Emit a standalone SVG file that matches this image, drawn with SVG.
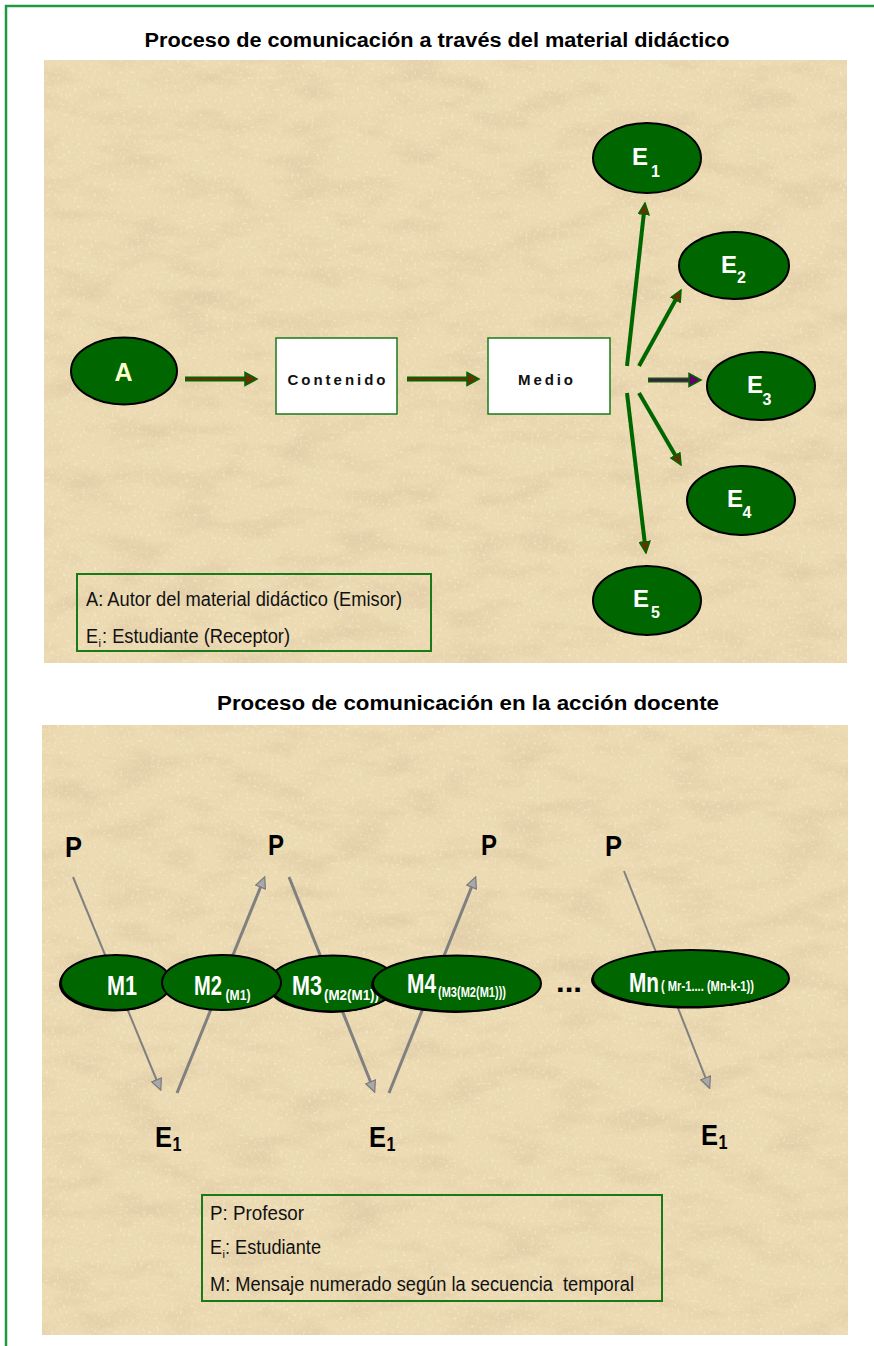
<svg xmlns="http://www.w3.org/2000/svg" width="874" height="1346" viewBox="0 0 874 1346">
<style>
.title{font-family:"Liberation Sans Narrow","Liberation Sans",Arial,sans-serif;font-weight:bold;font-size:20px;fill:#000}
.ell{fill:#006600;stroke:#000;stroke-width:2}
.box{fill:#fff;stroke:#1a7a1a;stroke-width:1.5}
.boxt{font-family:"Liberation Sans",Arial,sans-serif;font-weight:bold;font-size:15px;fill:#111}
.el{font-family:"Liberation Sans",Arial,sans-serif;font-weight:bold;font-size:24px;fill:#fff}
.els{font-family:"Liberation Sans",Arial,sans-serif;font-weight:bold;font-size:16px;fill:#fff}
.leg{fill:none;stroke:#1a7a1a;stroke-width:2}
.legt{font-family:"Liberation Sans Narrow","Liberation Sans",Arial,sans-serif;font-size:20px;fill:#111}
.legs{font-family:"Liberation Sans",Arial,sans-serif;font-size:11px;fill:#111}
.g1{stroke:#006600;stroke-width:4;fill:none}
.gl{stroke:#808080;fill:none}
.mt{font-family:"Liberation Sans Narrow","Liberation Sans",Arial,sans-serif;font-weight:bold;font-size:27px;fill:#fff}
.ms{font-family:"Liberation Sans Narrow","Liberation Sans",Arial,sans-serif;font-weight:bold;font-size:14px;fill:#fff}
.pt{font-family:"Liberation Sans Narrow","Liberation Sans",Arial,sans-serif;font-weight:bold;font-size:29px;fill:#000}
.ps{font-family:"Liberation Sans Narrow","Liberation Sans",Arial,sans-serif;font-weight:bold;font-size:20px;fill:#000}
</style>
<defs>
<filter id="paper" x="0" y="0" width="100%" height="100%">
<feTurbulence type="fractalNoise" baseFrequency="0.018 0.045" numOctaves="4" seed="7" result="t"/>
<feColorMatrix in="t" type="matrix" values="0 0 0 0 0.74  0 0 0 0 0.6  0 0 0 0 0.38  1.8 0 0 0 -0.8" result="c"/>
<feComposite in="c" in2="SourceGraphic" operator="in"/>
</filter>
<filter id="speck" x="0" y="0" width="100%" height="100%">
<feTurbulence type="fractalNoise" baseFrequency="0.35" numOctaves="2" seed="3" result="t"/>
<feColorMatrix in="t" type="matrix" values="0 0 0 0 1  0 0 0 0 0.97  0 0 0 0 0.88  2.2 0 0 0 -1.25" result="c"/>
<feComposite in="c" in2="SourceGraphic" operator="in"/>
</filter>
<marker id="ah" viewBox="0 0 13 12" refX="2" refY="6" markerWidth="13" markerHeight="12" markerUnits="userSpaceOnUse" orient="auto">
<path d="M0.8,0.8 L12,6 L0.8,11.2 Z" fill="#663300" stroke="#006600" stroke-width="1.5"/>
</marker>
<marker id="gh" viewBox="0 0 13 12" refX="2" refY="6" markerWidth="13" markerHeight="12" markerUnits="userSpaceOnUse" orient="auto">
<path d="M0.8,0.8 L12,6 L0.8,11.2 Z" fill="#a8a8a8" stroke="#7a7a7a" stroke-width="1.2"/>
</marker>
</defs>

<rect width="874" height="1346" fill="#fff"/>
<path d="M6,1346 V6 H874" fill="none" stroke="#1f9a40" stroke-width="2.5"/>

<g id="panel-top">
<rect x="44" y="60" width="803" height="603" fill="#ecdab2"/>
<rect x="44" y="60" width="803" height="603" fill="#000" filter="url(#paper)"/>
<rect x="44" y="60" width="803" height="603" fill="#000" filter="url(#speck)" opacity="0.6"/>
</g>
<g id="panel-bottom">
<rect x="42" y="725" width="806" height="610" fill="#ecdab2"/>
<rect x="42" y="725" width="806" height="610" fill="#000" filter="url(#paper)"/>
<rect x="42" y="725" width="806" height="610" fill="#000" filter="url(#speck)" opacity="0.6"/>
</g>

<text id="title-1" class="title" x="437" y="47" text-anchor="middle" textLength="585" lengthAdjust="spacingAndGlyphs">Proceso de comunicación a través del material didáctico</text>
<text id="title-2" class="title" x="468" y="710" text-anchor="middle" textLength="502" lengthAdjust="spacingAndGlyphs">Proceso de comunicación en la acción docente</text>

<g id="connectors-top">
<line x1="185" y1="379" x2="246" y2="379" stroke="#006600" stroke-width="5"/>
<line x1="186" y1="379" x2="247" y2="379" stroke="#663300" stroke-width="1.8"/>
<path d="M245,372.5 L257,379 L245,385.5 Z" fill="#663300" stroke="#006600" stroke-width="1.5"/>
<line x1="407" y1="379" x2="468" y2="379" stroke="#006600" stroke-width="5"/>
<line x1="408" y1="379" x2="469" y2="379" stroke="#663300" stroke-width="1.8"/>
<path d="M467,372.5 L479,379 L467,385.5 Z" fill="#663300" stroke="#006600" stroke-width="1.5"/>
<line class="g1" x1="627" y1="366" x2="643.9" y2="213" marker-end="url(#ah)"/>
<line class="g1" x1="639" y1="366" x2="676.2" y2="298.8" marker-end="url(#ah)"/>
<line x1="648" y1="380" x2="690" y2="380" stroke="#006600" stroke-width="5"/>
<line x1="649" y1="380" x2="691" y2="380" stroke="#660066" stroke-width="2"/>
<path d="M689,373.5 L701,380 L689,386.5 Z" fill="#660066" stroke="#006600" stroke-width="1.5"/>
<line class="g1" x1="639" y1="393" x2="676" y2="456.4" marker-end="url(#ah)"/>
<line class="g1" x1="627" y1="393" x2="644.8" y2="543" marker-end="url(#ah)"/>
</g>

<g id="node-A">
<ellipse class="ell" cx="124" cy="371" rx="53" ry="33.5"/>
<text x="123.5" y="381" text-anchor="middle" font-family="Liberation Sans, Arial, sans-serif" font-weight="bold" font-size="25" fill="#ffffcc">A</text>
</g>
<g id="node-contenido">
<rect class="box" x="276" y="338" width="121" height="76"/>
<text class="boxt" x="336.5" y="385" text-anchor="middle" textLength="98">Contenido</text>
</g>
<g id="node-medio">
<rect class="box" x="488" y="338" width="122" height="76"/>
<text class="boxt" x="545.5" y="385" text-anchor="middle" textLength="55">Medio</text>
</g>
<g id="node-E1">
<ellipse class="ell" cx="647" cy="158" rx="54" ry="35"/>
<text class="el" x="632" y="165">E</text><text class="els" x="651" y="177">1</text>
</g>
<g id="node-E2">
<ellipse class="ell" cx="734" cy="265.5" rx="55" ry="33.5"/>
<text class="el" x="721" y="273">E</text><text class="els" x="737" y="283">2</text>
</g>
<g id="node-E3">
<ellipse class="ell" cx="761" cy="386" rx="54" ry="34"/>
<text class="el" x="747" y="393">E</text><text class="els" x="762.5" y="405">3</text>
</g>
<g id="node-E4">
<ellipse class="ell" cx="741" cy="500.5" rx="54" ry="34.5"/>
<text class="el" x="727" y="507">E</text><text class="els" x="742.5" y="518">4</text>
</g>
<g id="node-E5">
<ellipse class="ell" cx="647" cy="600.5" rx="54" ry="34.5"/>
<text class="el" x="633" y="607">E</text><text class="els" x="651" y="618">5</text>
</g>
<g id="legend-top">
<rect class="leg" x="77" y="574" width="354" height="77"/>
<text class="legt" x="86" y="606" textLength="316" lengthAdjust="spacingAndGlyphs">A: Autor del material didáctico (Emisor)</text>
<text class="legt" x="86" y="643" textLength="12" lengthAdjust="spacingAndGlyphs">E</text>
<text class="legs" x="98.5" y="647">i</text>
<text class="legt" x="102" y="643" textLength="188" lengthAdjust="spacingAndGlyphs">: Estudiante (Receptor)</text>
</g>

<g id="connectors-bottom">
<line class="gl" stroke-width="2" x1="73" y1="877" x2="157" y2="1081" marker-end="url(#gh)"/>
<line class="gl" stroke-width="3" x1="177" y1="1093" x2="261" y2="886" marker-end="url(#gh)"/>
<line class="gl" stroke-width="3" x1="289" y1="877" x2="371" y2="1083" marker-end="url(#gh)"/>
<line class="gl" stroke-width="3" x1="389" y1="1093" x2="472" y2="886" marker-end="url(#gh)"/>
<line class="gl" stroke-width="2" x1="624" y1="871" x2="706" y2="1079" marker-end="url(#gh)"/>
</g>

<g id="label-P1"><text class="pt" x="65" y="857" textLength="17" lengthAdjust="spacingAndGlyphs">P</text></g>
<g id="label-P2"><text class="pt" x="268" y="855" textLength="16" lengthAdjust="spacingAndGlyphs">P</text></g>
<g id="label-P3"><text class="pt" x="481" y="855" textLength="16" lengthAdjust="spacingAndGlyphs">P</text></g>
<g id="label-P4"><text class="pt" x="605" y="856" textLength="17" lengthAdjust="spacingAndGlyphs">P</text></g>

<g id="node-M1">
<ellipse cx="114" cy="984" rx="55" ry="27.5" fill="#000"/>
<ellipse class="ell" cx="116" cy="982.5" rx="55" ry="27.5"/>
<text class="mt" x="107" y="995" textLength="30" lengthAdjust="spacingAndGlyphs">M1</text>
</g>
<g id="node-M3">
<ellipse cx="331" cy="985" rx="64" ry="28" fill="#000"/>
<ellipse class="ell" cx="333" cy="983.5" rx="64" ry="28"/>
<text class="mt" x="292" y="995" textLength="30" lengthAdjust="spacingAndGlyphs">M3</text>
<text class="ms" x="324" y="1000" textLength="55" lengthAdjust="spacingAndGlyphs">(M2(M1))</text>
</g>
<g id="node-M2">
<ellipse class="ell" cx="221.5" cy="982.5" rx="59.5" ry="27.5"/>
<text class="mt" x="194" y="995" textLength="28" lengthAdjust="spacingAndGlyphs">M2</text>
<text class="ms" x="225.5" y="1000" textLength="25" lengthAdjust="spacingAndGlyphs">(M1)</text>
</g>
<g id="node-M4">
<ellipse cx="455" cy="985" rx="84" ry="28" fill="#000"/>
<ellipse class="ell" cx="457" cy="983.5" rx="84" ry="28"/>
<text class="mt" x="407" y="993" textLength="29" lengthAdjust="spacingAndGlyphs">M4</text>
<text class="ms" x="438" y="997" font-size="12" textLength="68" lengthAdjust="spacingAndGlyphs">(M3(M2(M1)))</text>
</g>
<g id="ellipsis">
<text x="556" y="992" font-family="Liberation Sans, Arial, sans-serif" font-weight="bold" font-size="30" fill="#000" textLength="26" lengthAdjust="spacingAndGlyphs">...</text>
</g>
<g id="node-Mn">
<ellipse cx="689" cy="980" rx="98" ry="28.5" fill="#000"/>
<ellipse class="ell" cx="691" cy="978.5" rx="98" ry="28.5"/>
<text class="mt" x="629" y="992" textLength="30" lengthAdjust="spacingAndGlyphs">Mn</text>
<text class="ms" x="661" y="991" font-size="12" textLength="93" lengthAdjust="spacingAndGlyphs">( Mr-1.... (Mn-k-1))</text>
</g>

<g id="label-E1a"><text class="pt" x="155" y="1147" textLength="17" lengthAdjust="spacingAndGlyphs">E</text><text class="ps" x="172.5" y="1151" textLength="9" lengthAdjust="spacingAndGlyphs">1</text></g>
<g id="label-E1b"><text class="pt" x="369" y="1147" textLength="17" lengthAdjust="spacingAndGlyphs">E</text><text class="ps" x="386.5" y="1151" textLength="9" lengthAdjust="spacingAndGlyphs">1</text></g>
<g id="label-E1c"><text class="pt" x="701" y="1145" textLength="17" lengthAdjust="spacingAndGlyphs">E</text><text class="ps" x="718.5" y="1149" textLength="9" lengthAdjust="spacingAndGlyphs">1</text></g>

<g id="legend-bottom">
<rect class="leg" x="202" y="1195" width="460" height="106"/>
<text class="legt" x="210" y="1220" textLength="94" lengthAdjust="spacingAndGlyphs">P: Profesor</text>
<text class="legt" x="210" y="1254" textLength="12" lengthAdjust="spacingAndGlyphs">E</text>
<text class="legs" x="222.5" y="1258">i</text>
<text class="legt" x="225" y="1254" textLength="96" lengthAdjust="spacingAndGlyphs">: Estudiante</text>
<text class="legt" x="210" y="1291" textLength="424" lengthAdjust="spacingAndGlyphs" xml:space="preserve">M: Mensaje numerado según la secuencia  temporal</text>
</g>
</svg>
